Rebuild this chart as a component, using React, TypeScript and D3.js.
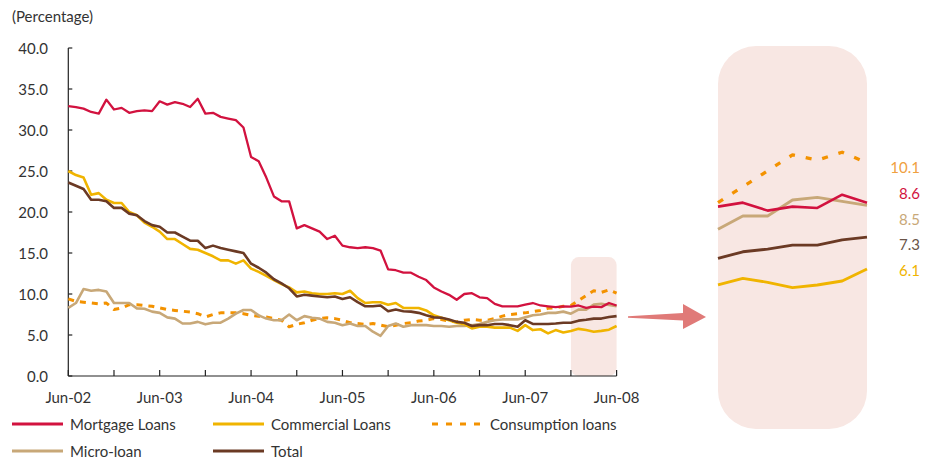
import React from "react";
import * as d3 from "d3";

// Monthly series, Jun-02 .. Jun-08 (73 months), in percent
const months = d3.range(73);

const mortgage = [
  32.9, 32.8, 32.6, 32.2, 32.0, 33.7, 32.5, 32.7, 32.1, 32.3,
  32.4, 32.3, 33.5, 33.1, 33.4, 33.2, 32.8, 33.8, 32.0, 32.1,
  31.6, 31.4, 31.2, 30.3, 26.7, 26.2, 24.2, 21.9, 21.3, 21.3,
  18.0, 18.4, 18.0, 17.6, 16.7, 17.1, 15.9, 15.7, 15.6, 15.7,
  15.6, 15.3, 13.0, 12.9, 12.6, 12.6, 12.1, 11.7, 10.8, 10.3,
  9.9, 9.3, 10.0, 10.1, 9.6, 9.5, 8.8, 8.5, 8.5, 8.5,
  8.7, 8.9, 8.6, 8.5, 8.4, 8.5, 8.45, 8.6, 8.3, 8.45,
  8.4, 8.9, 8.6,
];

const commercial = [
  25.0, 24.5, 24.2, 22.1, 22.3, 21.5, 21.1, 21.1, 20.0, 19.6,
  18.7, 18.2, 17.6, 16.7, 16.7, 16.1, 15.5, 15.4, 15.0, 14.6,
  14.1, 14.1, 13.7, 14.1, 13.1, 12.7, 12.2, 11.7, 11.2, 10.8,
  10.2, 10.3, 10.1, 10.0, 10.0, 10.1, 10.0, 10.4, 9.5, 8.9,
  9.0, 9.0, 8.7, 8.9, 8.3, 8.3, 8.3, 8.0, 7.4, 7.1,
  6.8, 6.5, 6.3, 5.8, 6.0, 6.0, 5.9, 5.9, 5.9, 5.5,
  6.2, 5.6, 5.7, 5.2, 5.6, 5.3, 5.5, 5.75, 5.6, 5.4,
  5.5, 5.65, 6.1,
];

const consumption = [
  9.4, 9.1, 9.0, 8.9, 8.8, 8.9, 8.1, 8.3, 8.7, 8.7,
  8.6, 8.5, 8.3, 8.1, 8.0, 7.9, 7.8, 7.6, 7.2, 7.5,
  7.7, 7.7, 7.7, 7.6, 7.4, 7.3, 7.2, 7.0, 6.8, 6.0,
  6.3, 6.5, 6.8, 7.0, 7.1, 7.0, 6.8, 6.5, 6.4, 6.3,
  6.4, 6.2, 6.0, 6.2, 6.4, 6.5, 6.7, 6.8, 7.0, 6.9,
  6.7, 6.6, 6.8, 6.9, 6.8, 6.8, 7.0, 7.3, 7.5, 7.6,
  7.7, 7.85, 8.0, 8.25, 8.3, 8.5, 8.6, 9.2, 9.8, 10.4,
  10.2, 10.5, 10.1,
];

const microLoan = [
  8.3, 8.9, 10.6, 10.4, 10.5, 10.3, 8.9, 8.9, 8.9, 8.25,
  8.2, 7.85, 7.7, 7.15, 7.0, 6.4, 6.4, 6.6, 6.3, 6.5,
  6.5, 7.0, 7.6, 8.05, 8.05, 7.4, 7.0, 6.8, 6.8, 7.5,
  6.8, 7.3, 7.1, 7.0, 6.6, 6.5, 6.2, 6.4, 6.1, 6.1,
  5.4, 4.9, 6.1, 6.4, 6.0, 6.2, 6.2, 6.2, 6.1, 6.1,
  6.0, 6.1, 6.1, 6.2, 6.35, 6.6, 6.8, 6.9, 6.9, 6.9,
  7.15, 7.4, 7.5, 7.7, 7.7, 7.85, 7.6, 8.1, 8.1, 8.7,
  8.8, 8.65, 8.5,
];

const total = [
  23.6, 23.2, 22.8, 21.5, 21.5, 21.3, 20.5, 20.5, 19.8, 19.6,
  18.9, 18.4, 18.2, 17.5, 17.5, 17.0, 16.5, 16.5, 15.6, 15.9,
  15.6, 15.4, 15.2, 15.0, 13.7, 13.2, 12.6, 11.8, 11.3, 10.7,
  9.7, 9.9, 9.8, 9.7, 9.6, 9.7, 9.4, 9.6, 9.0, 8.5,
  8.5, 8.6, 7.9, 8.1, 7.9, 7.85, 7.7, 7.4, 7.15, 7.1,
  6.9, 6.6, 6.5, 6.1, 6.2, 6.2, 6.35, 6.35, 6.2, 6.0,
  6.8, 6.35, 6.35, 6.35, 6.4, 6.5, 6.5, 6.75, 6.85, 7.0,
  7.0, 7.2, 7.3,
];

const yTicks = [0, 5, 10, 15, 20, 25, 30, 35, 40];
const xTickMonths = d3.range(0, 73, 6);
const xLabels = ["Jun-02", "Jun-03", "Jun-04", "Jun-05", "Jun-06", "Jun-07", "Jun-08"];

// Months shown in the magnified panel (Jan-08 .. Jun-08) and its value span
const zoomStart = 66;
const zoomEnd = 72;
const zoomMax = 14.5;

type Series = {
  name: string;
  values: number[];
  color: string;
  labelColor: string;
  dashed?: boolean;
  width: number;
};

const series: Series[] = [
  { name: "Consumption loans", values: consumption, color: "#F39200", labelColor: "#F0A040", dashed: true, width: 3 },
  { name: "Micro-loan", values: microLoan, color: "#C8A878", labelColor: "#C8A878", width: 2.6 },
  { name: "Commercial Loans", values: commercial, color: "#F0B400", labelColor: "#F0B400", width: 2.6 },
  { name: "Total", values: total, color: "#6B3A24", labelColor: "#6A5448", width: 2.6 },
  { name: "Mortgage Loans", values: mortgage, color: "#D2123F", labelColor: "#D2123F", width: 2.3 },
];

const legendRows: { name: string; col: number; row: number }[] = [
  { name: "Mortgage Loans", col: 0, row: 0 },
  { name: "Commercial Loans", col: 1, row: 0 },
  { name: "Consumption loans", col: 2, row: 0 },
  { name: "Micro-loan", col: 0, row: 1 },
  { name: "Total", col: 1, row: 1 },
];

const FONT = "Lato, 'Open Sans', sans-serif";
const TEXT = "#333333";

export default function App() {
  const W = 933;
  const H = 460;

  const x = d3.scaleLinear().domain([0, 72]).range([68.3, 616.6]);
  const y = d3.scaleLinear().domain([0, 40]).range([376, 48]);

  const px = d3.scaleLinear().domain([zoomStart, zoomEnd]).range([718, 867]);
  const py = d3.scaleLinear().domain([0, zoomMax]).range([431, 46]);

  const mainLine = (vals: number[]) =>
    d3
      .line<number>()
      .x((i) => x(i))
      .y((i) => y(vals[i]))(months) || "";

  const zoomMonths = d3.range(zoomStart, zoomEnd + 1);
  const panelLine = (vals: number[]) =>
    d3
      .line<number>()
      .x((i) => px(i))
      .y((i) => py(vals[i]))(zoomMonths) || "";

  // End-of-period labels, stacked from highest to lowest value
  const endLabels = [...series]
    .map((s) => ({ s, v: s.values[zoomEnd] }))
    .sort((a, b) => b.v - a.v);
  const labelTop = 167;
  const labelBottom = 270;
  const labelStep = (labelBottom - labelTop) / (endLabels.length - 1);

  const byName = (n: string) => series.find((s) => s.name === n)!;

  // Arrow pointing from the highlighted months to the panel
  const ay = 317;
  const arrow = [
    [628, ay - 0.8],
    [683, ay - 4],
    [683, ay - 13],
    [706, ay],
    [683, ay + 12],
    [683, ay + 3.5],
    [628, ay + 0.8],
  ]
    .map((p) => p.join(","))
    .join(" ");

  return (
    <svg
      width={W}
      height={H}
      viewBox={`0 0 ${W} ${H}`}
      style={{ position: "absolute", left: 0, top: 0, display: "block", background: "#fff" }}
      fontFamily={FONT}
    >
      {/* unit caption */}
      <text x={12} y={22} fontSize={15} fill={TEXT}>
        (Percentage)
      </text>

      {/* highlighted months in the main chart */}
      <rect
        x={x(zoomStart)}
        y={y(zoomMax)}
        width={x(zoomEnd) - x(zoomStart)}
        height={y(0) - y(zoomMax)}
        rx={8}
        fill="#F8E7E3"
      />

      {/* y axis */}
      <line x1={x(0)} x2={x(0)} y1={y(40)} y2={y(0)} stroke="#222" strokeWidth={1.2} />
      {yTicks.map((t) => (
        <g key={t}>
          <line x1={x(0)} x2={x(0) + 4} y1={y(t)} y2={y(t)} stroke="#222" strokeWidth={1.2} />
          <text
            x={48}
            y={y(t)}
            textAnchor="end"
            dominantBaseline="central"
            fontSize={15}
            fill={TEXT}
          >
            {t.toFixed(1)}
          </text>
        </g>
      ))}

      {/* x axis */}
      <line x1={x(0)} x2={x(72)} y1={y(0)} y2={y(0)} stroke="#222" strokeWidth={1.2} />
      {xTickMonths.map((m) => (
        <line key={m} x1={x(m)} x2={x(m)} y1={y(0)} y2={y(0) - 6} stroke="#222" strokeWidth={1.2} />
      ))}
      {xLabels.map((l, k) => (
        <text
          key={l}
          x={x(k * 12)}
          y={397}
          textAnchor="middle"
          dominantBaseline="central"
          fontSize={15}
          fill={TEXT}
        >
          {l}
        </text>
      ))}

      {/* main lines */}
      {series.map((s) => (
        <path
          key={s.name}
          d={mainLine(s.values)}
          fill="none"
          stroke={s.color}
          strokeWidth={s.width}
          strokeLinejoin="round"
          strokeDasharray={s.dashed ? "6 6" : undefined}
        />
      ))}

      {/* arrow */}
      <polygon points={arrow} fill="#E07A78" />

      {/* magnified panel */}
      <rect x={718} y={46} width={149} height={383} rx={38} fill="#F8E7E3" />
      {series.map((s) => (
        <path
          key={s.name}
          d={panelLine(s.values)}
          fill="none"
          stroke={s.color}
          strokeWidth={s.width + 0.3}
          strokeLinejoin="round"
          strokeDasharray={s.dashed ? "6 11" : undefined}
        />
      ))}
      {endLabels.map(({ s, v }, k) => (
        <text
          key={s.name}
          x={920}
          y={labelTop + k * labelStep}
          textAnchor="end"
          dominantBaseline="central"
          fontSize={15}
          fill={s.labelColor}
        >
          {v.toFixed(1)}
        </text>
      ))}

      {/* legend */}
      {legendRows.map((r) => {
        const s = byName(r.name);
        const lx = [12, 213, 432][r.col];
        const ly = 424 + r.row * 27;
        return (
          <g key={r.name}>
            <line
              x1={lx}
              x2={lx + 51}
              y1={ly}
              y2={ly}
              stroke={s.color}
              strokeWidth={3}
              strokeDasharray={s.dashed ? "6 8" : undefined}
            />
            <text x={lx + 58} y={ly} dominantBaseline="central" fontSize={15} fill={TEXT}>
              {r.name}
            </text>
          </g>
        );
      })}
    </svg>
  );
}
